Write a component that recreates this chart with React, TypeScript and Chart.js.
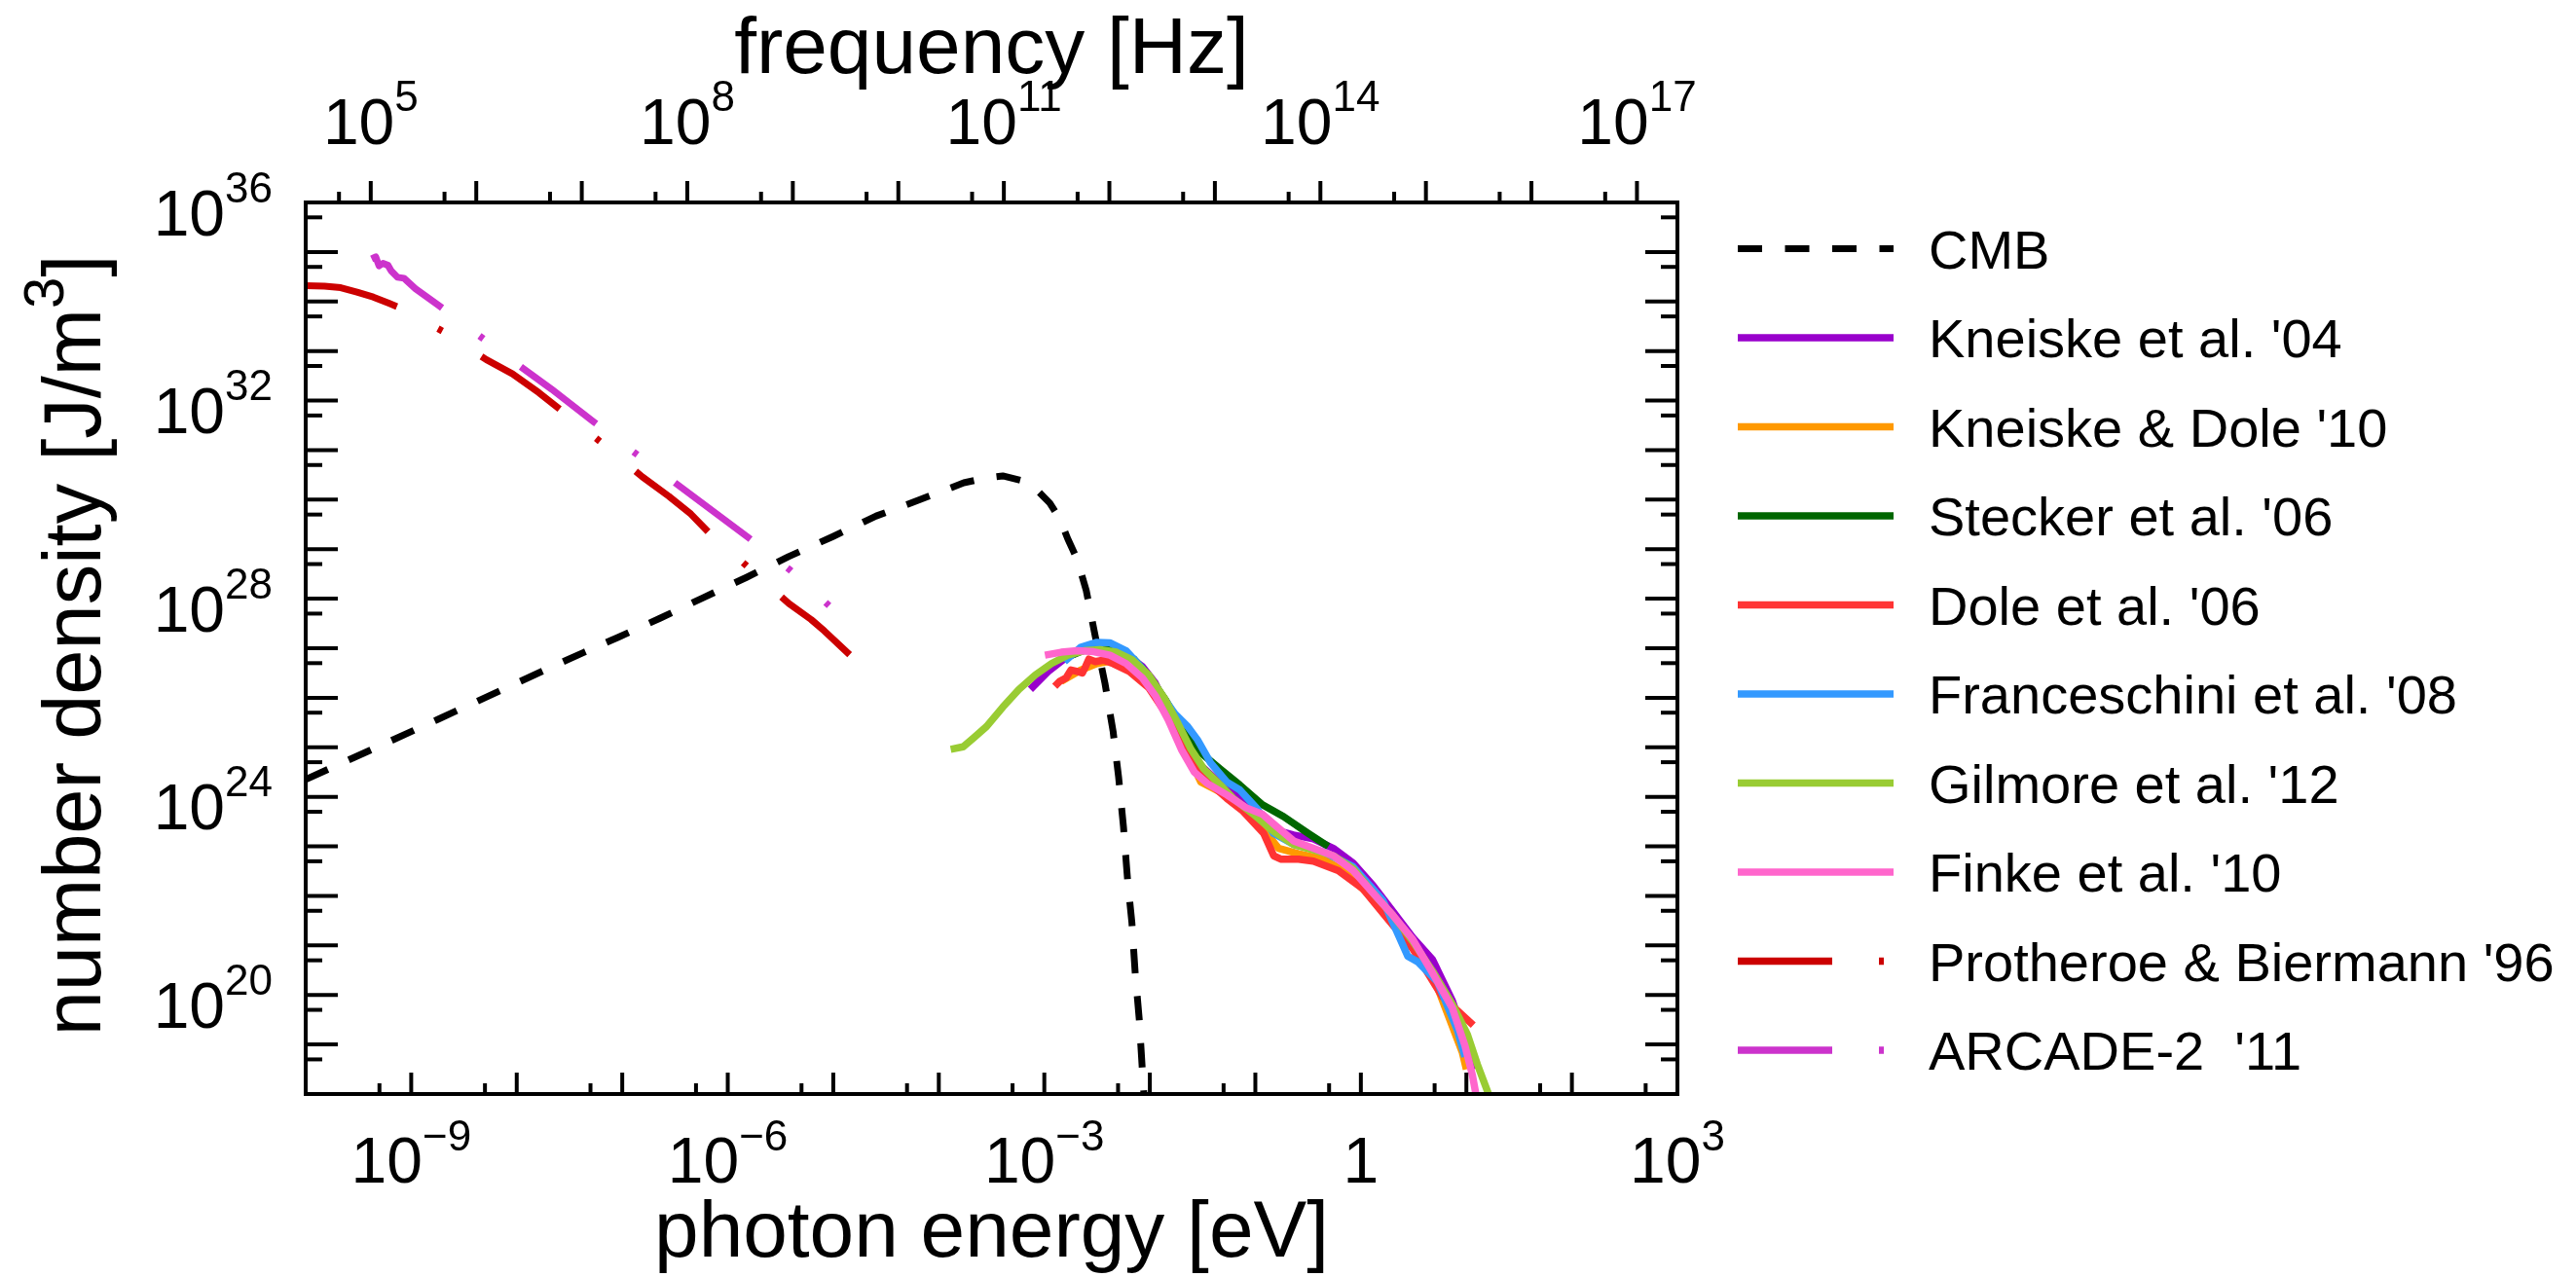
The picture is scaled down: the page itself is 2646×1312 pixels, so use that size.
import React, { useEffect, useRef } from "react";
import { Chart, registerables } from "chart.js";

Chart.register(...registerables);

const CANVAS_W = 2646;
const CANVAS_H = 1312;
const PLANCK_EV_S = 4.135667e-15;
const FONT = '"Liberation Sans", Arial, Helvetica, sans-serif';

// axis ranges (log10 of value)
const energyRangeExp = [-10, 3];
const densityRangeExp = [18, 36];
const energyLabelExp = [-9, -6, -3, 0, 3];
const densityLabelExp = [20, 24, 28, 32, 36];
const freqLabelExp = [5, 8, 11, 14, 17];

// ---- series (log10 photon energy [eV], log10 number density) ----
const cmbLogE = [-10, -8.75, -7.56, -7.361, -7.038, -6.638, -6.223, -5.823, -5.424, -5.008, -4.593, -4.178, -3.763, -3.55, -3.394, -3.209, -3.05, -2.948, -2.85, -2.778, -2.69, -2.603, -2.517, -2.425, -2.348, -2.296, -2.25, -2.21, -2.17, -2.14, -2.1, -2.07, -2.05];
const cmbLogN = [24.35, 25.56, 26.73, 26.92, 27.22, 27.61, 28.03, 28.43, 28.85, 29.25, 29.67, 30.0, 30.34, 30.44, 30.48, 30.38, 30.15, 29.93, 29.6, 29.21, 28.8, 28.17, 27.24, 26.29, 25.32, 24.4, 23.4, 22.3, 21.46, 20.48, 19.5, 18.45, 17.8];

const kneiskeLogE = [-3.132, -2.963, -2.809, -2.656, -2.44, -2.256, -2.071, -1.95, -1.825, -1.671, -1.517, -1.364, -1.21, -1.015, -0.826, -0.638, -0.45, -0.261, -0.073, 0.115, 0.303, 0.492, 0.68, 0.868, 1.033, 1.06];
const kneiskeLogN = [26.17, 26.53, 26.79, 26.95, 27.02, 26.92, 26.63, 26.3, 25.74, 25.09, 24.63, 24.33, 24.14, 23.79, 23.34, 23.23, 23.15, 22.96, 22.66, 22.21, 21.69, 21.16, 20.71, 19.88, 18.83, 18.5];

const kneiskeDoleLogE = [-2.84, -2.656, -2.502, -2.379, -2.225, -2.071, -1.917, -1.764, -1.641, -1.517, -1.333, -1.15, -0.921, -0.779, -0.591, -0.356, -0.167, 0.115, 0.397, 0.68, 0.963, 1.0];
const kneiskeDoleLogN = [26.33, 26.56, 26.69, 26.74, 26.64, 26.4, 26.0, 25.4, 24.85, 24.3, 24.1, 23.85, 23.34, 22.96, 22.85, 22.74, 22.51, 21.95, 21.23, 20.41, 18.83, 18.5];

const steckerLogE = [-2.75, -2.6, -2.44, -2.3, -2.15, -2.0, -1.85, -1.7, -1.517, -1.333, -1.148, -0.933, -0.732, -0.497, -0.309];
const steckerLogN = [26.85, 26.98, 27.04, 26.98, 26.78, 26.42, 25.95, 25.4, 24.89, 24.56, 24.24, 23.84, 23.6, 23.26, 23.0];

const doleLogE = [-2.901, -2.855, -2.794, -2.748, -2.686, -2.64, -2.609, -2.578, -2.517, -2.44, -2.348, -2.194, -2.01, -1.825, -1.671, -1.517, -1.271, -1.117, -0.921, -0.826, -0.754, -0.591, -0.45, -0.214, 0.021, 0.256, 0.492, 0.774, 1.065];
const doleLogN = [26.23, 26.33, 26.4, 26.56, 26.53, 26.5, 26.63, 26.78, 26.73, 26.76, 26.69, 26.53, 26.2, 25.61, 24.96, 24.43, 23.97, 23.71, 23.26, 22.81, 22.74, 22.74, 22.7, 22.51, 22.14, 21.53, 20.93, 19.96, 19.39];

const franceschiniLogE = [-2.809, -2.656, -2.502, -2.379, -2.225, -2.071, -1.917, -1.764, -1.641, -1.548, -1.425, -1.271, -1.148, -0.98, -0.826, -0.638, -0.356, -0.073, 0.209, 0.445, 0.539, 0.727, 0.916, 0.986];
const franceschiniLogN = [26.73, 27.02, 27.12, 27.11, 26.95, 26.59, 26.14, 25.68, 25.42, 25.15, 24.69, 24.3, 24.14, 23.75, 23.26, 23.04, 22.89, 22.59, 21.91, 20.78, 20.67, 20.26, 19.28, 18.75];

const gilmoreLogE = [-3.887, -3.77, -3.67, -3.547, -3.394, -3.24, -3.086, -2.932, -2.778, -2.625, -2.471, -2.317, -2.163, -2.01, -1.856, -1.733, -1.61, -1.487, -1.333, -1.21, -1.025, -0.826, -0.638, -0.45, -0.261, -0.073, 0.115, 0.303, 0.492, 0.68, 0.868, 1.01, 1.104, 1.21];
const gilmoreLogN = [24.96, 25.01, 25.19, 25.42, 25.81, 26.17, 26.46, 26.69, 26.86, 26.95, 26.97, 26.92, 26.76, 26.46, 25.97, 25.48, 24.96, 24.56, 24.24, 23.97, 23.66, 23.3, 23.04, 22.93, 22.81, 22.55, 22.06, 21.61, 21.08, 20.48, 19.81, 19.2, 18.6, 18.0];

const finkeLogE = [-2.994, -2.84, -2.686, -2.532, -2.379, -2.225, -2.071, -1.948, -1.825, -1.702, -1.579, -1.456, -1.271, -1.087, -0.933, -0.826, -0.638, -0.45, -0.261, -0.073, 0.115, 0.303, 0.492, 0.68, 0.868, 0.986, 1.057, 1.09];
const finkeLogN = [26.86, 26.92, 26.95, 26.93, 26.86, 26.69, 26.4, 26.04, 25.55, 24.96, 24.5, 24.27, 24.04, 23.78, 23.65, 23.45, 23.11, 22.96, 22.81, 22.51, 22.06, 21.61, 21.12, 20.44, 19.73, 18.98, 18.38, 18.0];

const protheroeLogE = [-10.0, -9.822, -9.668, -9.514, -9.36, -9.206, -9.114, -8.693, -8.29, -8.04, -7.79, -7.56, -7.19, -6.81, -6.56, -6.35, -6.15, -5.78, -5.42, -5.21, -5.085, -4.845];
const protheroeLogN = [34.32, 34.31, 34.28, 34.19, 34.09, 33.96, 33.88, 33.39, 32.83, 32.54, 32.16, 31.77, 31.14, 30.46, 30.07, 29.71, 29.27, 28.59, 27.9, 27.58, 27.35, 26.87];

const arcadeLogE = [-9.375, -9.336, -9.305, -9.268, -9.22, -9.19, -9.13, -9.068, -8.96, -8.745, -8.35, -7.967, -7.67, -7.27, -6.884, -6.494, -5.79, -5.41, -5.04];
const arcadeLogN = [34.86, 34.9, 34.72, 34.77, 34.73, 34.62, 34.49, 34.47, 34.26, 33.93, 33.3, 32.69, 32.23, 31.57, 30.95, 30.33, 29.21, 28.58, 27.86];

const seriesLabels = [
  "CMB",
  "Kneiske et al. '04",
  "Kneiske & Dole '10",
  "Stecker et al. '06",
  "Dole et al. '06",
  "Franceschini et al. '08",
  "Gilmore et al. '12",
  "Finke et al. '10",
  "Protheroe & Biermann '96",
  "ARCADE-2  '11",
];
const seriesLogE = [cmbLogE, kneiskeLogE, kneiskeDoleLogE, steckerLogE, doleLogE, franceschiniLogE, gilmoreLogE, finkeLogE, protheroeLogE, arcadeLogE];
const seriesLogN = [cmbLogN, kneiskeLogN, kneiskeDoleLogN, steckerLogN, doleLogN, franceschiniLogN, gilmoreLogN, finkeLogN, protheroeLogN, arcadeLogN];

// styles
const seriesColors = ["#000000", "#9900CC", "#FF9900", "#006600", "#FF3333", "#3399FF", "#99CC33", "#FF66CC", "#CC0000", "#CC33CC"];
const seriesWidths = [7, 7.5, 7.5, 7.5, 7.5, 7.5, 7.5, 7.5, 7, 7];
const DASH_CMB = [25, 23.5];
const DASH_DOT = [97, 48, 5, 48];
const seriesDashes = [DASH_CMB, [], [], [], [], [], [], [], DASH_DOT, DASH_DOT];

const toPoints = (le: number[], ln: number[]) => le.map((e, i) => ({ x: Math.pow(10, e), y: Math.pow(10, ln[i]) }));

function drawPower(ctx: CanvasRenderingContext2D, exp: number, cx: number | null, rightX: number | null, baseline: number, big: number, small: number, raise: number) {
  ctx.font = `${big}px ${FONT}`;
  const main = exp === 0 ? "1" : "10";
  const wMain = ctx.measureText(main).width;
  let sup = "";
  let wSup = 0;
  if (exp !== 0) {
    sup = exp < 0 ? "\u2212" + String(-exp) : String(exp);
    ctx.font = `${small}px ${FONT}`;
    wSup = ctx.measureText(sup).width;
  }
  const total = wMain + wSup;
  const x0 = cx !== null ? cx - total / 2 : (rightX as number) - total;
  ctx.textAlign = "left";
  ctx.textBaseline = "alphabetic";
  ctx.font = `${big}px ${FONT}`;
  ctx.fillText(main, x0, baseline);
  if (sup) {
    ctx.font = `${small}px ${FONT}`;
    ctx.fillText(sup, x0 + wMain, baseline - raise);
  }
}

const decorPlugin = {
  id: "decor",
  afterDraw(chart: any) {
    const { ctx, chartArea: a, scales } = chart;
    const xs = scales.x;
    const xf = scales.x2;
    const ys = scales.y;
    ctx.save();
    ctx.strokeStyle = "#000";
    ctx.fillStyle = "#000";
    ctx.lineWidth = 4;
    ctx.lineCap = "butt";
    ctx.setLineDash([]);
    const seg = (x1: number, y1: number, x2: number, y2: number) => {
      ctx.beginPath();
      ctx.moveTo(x1, y1);
      ctx.lineTo(x2, y2);
      ctx.stroke();
    };

    // bottom energy ticks (inward)
    for (let n = energyRangeExp[0]; n <= energyRangeExp[1]; n++) {
      const px = xs.getPixelForValue(Math.pow(10, n));
      seg(px, a.bottom, px, a.bottom - 22);
      if (n - 1 + Math.log10(5) > energyRangeExp[0]) {
        const pm = xs.getPixelForValue(5 * Math.pow(10, n - 1));
        seg(pm, a.bottom, pm, a.bottom - 11);
      }
    }
    // top frequency ticks (outward)
    const fMin = xf.min;
    const fMax = xf.max;
    for (let n = Math.floor(Math.log10(fMin)); n <= Math.ceil(Math.log10(fMax)); n++) {
      const v = Math.pow(10, n);
      if (v >= fMin && v <= fMax) {
        const px = xf.getPixelForValue(v);
        seg(px, a.top, px, a.top - 22);
      }
      const vm = 5 * Math.pow(10, n - 1);
      if (vm >= fMin && vm <= fMax) {
        const pm = xf.getPixelForValue(vm);
        seg(pm, a.top, pm, a.top - 11);
      }
    }
    // y ticks (inward both sides)
    for (let n = densityRangeExp[0]; n <= densityRangeExp[1]; n++) {
      const py = ys.getPixelForValue(Math.pow(10, n));
      seg(a.left, py, a.left + 33, py);
      seg(a.right, py, a.right - 33, py);
      if (n - 1 + Math.log10(5) > densityRangeExp[0]) {
        const pm = ys.getPixelForValue(5 * Math.pow(10, n - 1));
        seg(a.left, pm, a.left + 17, pm);
        seg(a.right, pm, a.right - 17, pm);
      }
    }
    // frame
    ctx.strokeRect(a.left, a.top, a.right - a.left, a.bottom - a.top);

    // tick labels
    for (const e of energyLabelExp) {
      drawPower(ctx, e, xs.getPixelForValue(Math.pow(10, e)), null, a.bottom + 91, 66, 44, 33);
    }
    for (const e of freqLabelExp) {
      drawPower(ctx, e, xf.getPixelForValue(Math.pow(10, e)), null, a.top - 60, 66, 44, 34);
    }
    for (const e of densityLabelExp) {
      drawPower(ctx, e, null, a.left - 34, ys.getPixelForValue(Math.pow(10, e)) + 33.5, 66, 44, 34);
    }

    // axis titles
    const cx = (a.left + a.right) / 2;
    ctx.textAlign = "center";
    ctx.textBaseline = "alphabetic";
    ctx.font = `82px ${FONT}`;
    ctx.fillText("frequency [Hz]", cx, 75);
    ctx.fillText("photon energy [eV]", cx, 1291);

    ctx.save();
    const cy = (a.top + a.bottom) / 2;
    ctx.translate(103, cy - 3);
    ctx.rotate(-Math.PI / 2);
    ctx.textAlign = "left";
    const t1 = "number density [J/m";
    const t2 = "3";
    const t3 = "]";
    const bigT = 83;
    const smallT = 58;
    ctx.font = `${bigT}px ${FONT}`;
    const w1 = ctx.measureText(t1).width;
    const w3 = ctx.measureText(t3).width;
    ctx.font = `${smallT}px ${FONT}`;
    const w2 = ctx.measureText(t2).width;
    const start = -(w1 + w2 + w3) / 2;
    ctx.font = `${bigT}px ${FONT}`;
    ctx.fillText(t1, start, 0);
    ctx.fillText(t3, start + w1 + w2, 0);
    ctx.font = `${smallT}px ${FONT}`;
    ctx.fillText(t2, start + w1, -38);
    ctx.restore();

    // legend
    const lx0 = 1785;
    const lx1 = 1945;
    const tx = 1981;
    for (let i = 0; i < seriesLabels.length; i++) {
      const ry = 255.5 + i * 91.5;
      ctx.strokeStyle = seriesColors[i];
      ctx.lineWidth = i === 0 ? 7 : 7.5;
      ctx.setLineDash(seriesDashes[i]);
      ctx.lineDashOffset = 0;
      seg(lx0, ry, lx1, ry);
      ctx.setLineDash([]);
      ctx.fillStyle = "#000";
      ctx.font = `56px ${FONT}`;
      ctx.textAlign = "left";
      ctx.textBaseline = "alphabetic";
      ctx.fillText(seriesLabels[i], tx, ry + 20);
    }
    ctx.restore();
  },
};

export default function App() {
  const canvasRef = useRef<HTMLCanvasElement | null>(null);

  useEffect(() => {
    const canvas = canvasRef.current;
    if (!canvas) return;
    const n = seriesLabels.length;
    const datasets = seriesLabels.map((label, i) => ({
      label,
      data: toPoints(seriesLogE[i], seriesLogN[i]),
      borderColor: seriesColors[i],
      backgroundColor: seriesColors[i],
      borderWidth: seriesWidths[i],
      borderDash: seriesDashes[i],
      borderCapStyle: "butt" as const,
      borderJoinStyle: "round" as const,
      showLine: true,
      fill: false,
      pointRadius: 0,
      pointHoverRadius: 0,
      tension: 0,
      xAxisID: "x",
      yAxisID: "y",
      order: n - i,
    }));

    const chart = new Chart(canvas, {
      type: "scatter",
      data: { datasets },
      options: {
        animation: false,
        responsive: false,
        devicePixelRatio: 1,
        events: [],
        layout: { padding: { left: 314, top: 208, right: CANVAS_W - 1723, bottom: CANVAS_H - 1124 } },
        plugins: { legend: { display: false }, tooltip: { enabled: false }, title: { display: false } },
        scales: {
          x: { type: "logarithmic", min: Math.pow(10, energyRangeExp[0]), max: Math.pow(10, energyRangeExp[1]), display: false },
          x2: {
            type: "logarithmic",
            position: "top",
            axis: "x",
            min: Math.pow(10, energyRangeExp[0]) / PLANCK_EV_S,
            max: Math.pow(10, energyRangeExp[1]) / PLANCK_EV_S,
            display: false,
          },
          y: { type: "logarithmic", min: Math.pow(10, densityRangeExp[0]), max: Math.pow(10, densityRangeExp[1]), display: false },
        },
      } as any,
      plugins: [decorPlugin],
    });
    return () => chart.destroy();
  }, []);

  return (
    <div style={{ position: "fixed", left: 0, top: 0, width: CANVAS_W, height: CANVAS_H, background: "#fff" }}>
      <canvas ref={canvasRef} width={CANVAS_W} height={CANVAS_H} style={{ width: CANVAS_W, height: CANVAS_H, display: "block" }} />
    </div>
  );
}
